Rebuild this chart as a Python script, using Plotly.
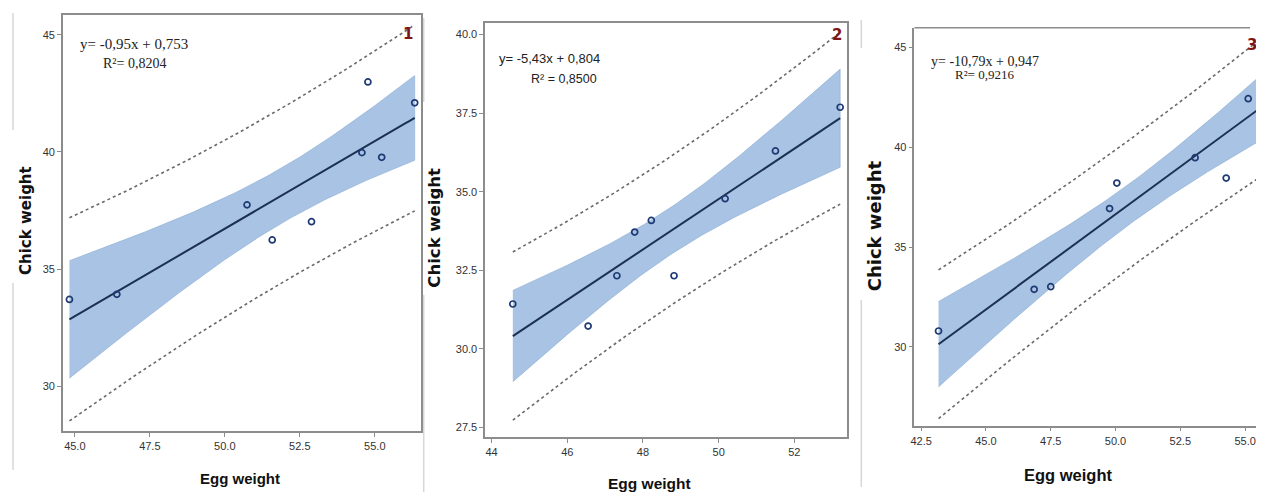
import numpy as np
import plotly.graph_objects as go

W, H = 1264, 493
OFF = 8  # page body margin compensation (pixels)

# ---------------- data ----------------
egg_1 = [44.82, 46.40, 50.74, 51.58, 52.89, 54.57, 54.77, 55.23, 56.33]
chick_1 = [33.70, 33.92, 37.74, 36.24, 37.02, 39.97, 42.99, 39.77, 42.10]

egg_2 = [44.56, 46.55, 47.31, 47.78, 48.22, 48.82, 50.17, 51.50, 53.21]
chick_2 = [31.43, 30.73, 32.33, 33.72, 34.09, 32.33, 34.78, 36.30, 37.69]

egg_3 = [43.17, 46.86, 47.50, 49.77, 50.05, 53.07, 54.27, 55.12, 55.65]
chick_3 = [30.79, 32.88, 33.01, 36.93, 38.21, 39.48, 38.46, 42.44, 42.80]

eq_text = ["y= -0,95x + 0,753", "y= -5,43x + 0,804", "y= -10,79x + 0,947"]
r2_text = ["R²= 0,8204", "R² = 0,8500", "R²= 0,9216"]
panel_label = ["1", "2", "3"]

x_ticks_1 = [45.0, 47.5, 50.0, 52.5, 55.0]
x_ticklabels_1 = ["45.0", "47.5", "50.0", "52.5", "55.0"]
y_ticks_1 = [30, 35, 40, 45]
y_ticklabels_1 = ["30", "35", "40", "45"]

x_ticks_2 = [44, 46, 48, 50, 52]
x_ticklabels_2 = ["44", "46", "48", "50", "52"]
y_ticks_2 = [27.5, 30.0, 32.5, 35.0, 37.5, 40.0]
y_ticklabels_2 = ["27.5", "30.0", "32.5", "35.0", "37.5", "40.0"]

x_ticks_3 = [42.5, 45.0, 47.5, 50.0, 52.5, 55.0]
x_ticklabels_3 = ["42.5", "45.0", "47.5", "50.0", "52.5", "55.0"]
y_ticks_3 = [30, 35, 40, 45]
y_ticklabels_3 = ["30", "35", "40", "45"]

# ---------------- layout geometry (screen pixels) ----------------
boxes = [  # left, right, top, bottom
    (59, 418, 15, 431),
    (482.7, 846, 22.7, 437.3),
    (913.3, 1264, 27.7, 425.7),
]
x_ranges = [[44.60, 56.53], [43.83, 53.40], [42.24, 55.73]]
y_ranges = [[28.08, 45.85], [27.19, 40.38], [26.04, 46.00]]

T975 = {7: 2.364624, 8: 2.306004, 6: 2.446912}

BAND = "rgb(168,195,227)"
BAND_EDGE = "rgb(140,172,212)"
LINE = "rgb(28,48,82)"
MARK = "rgb(30,58,115)"
PI = "rgb(105,105,112)"
AXIS = "rgb(140,140,140)"

fig = go.Figure()


def px_x(p):
    return min(max((p - OFF) / W, 0.0), 1.0)


def px_y(p):
    return min(max(1 - (p - OFF) / H, 0.0), 1.0)


datasets = [(egg_1, chick_1), (egg_2, chick_2), (egg_3, chick_3)]

for i, (xs, ys) in enumerate(datasets):
    k = "" if i == 0 else str(i + 1)
    xa, ya = "x" + k, "y" + k
    x = np.array(xs)
    y = np.array(ys)
    n = len(x)
    b1, b0 = np.polyfit(x, y, 1)
    resid = y - (b0 + b1 * x)
    s = np.sqrt(np.sum(resid ** 2) / (n - 2))
    sxx = np.sum((x - x.mean()) ** 2)
    t = T975[n - 2]
    g = np.linspace(x.min(), x.max(), 120)
    fit = b0 + b1 * g
    ci = t * s * np.sqrt(1 / n + (g - x.mean()) ** 2 / sxx)
    pi = t * s * np.sqrt(1 + 1 / n + (g - x.mean()) ** 2 / sxx)

    fig.add_trace(go.Scatter(
        x=np.concatenate([g, g[::-1]]),
        y=np.concatenate([fit + ci, (fit - ci)[::-1]]),
        fill="toself", fillcolor=BAND, mode="lines",
        line=dict(color=BAND_EDGE, width=0.6),
        xaxis=xa, yaxis=ya, showlegend=False, hoverinfo="skip"))
    for sgn in (1, -1):
        fig.add_trace(go.Scatter(
            x=g, y=fit + sgn * pi, mode="lines",
            line=dict(color=PI, width=1.6, dash="dot"),
            xaxis=xa, yaxis=ya, showlegend=False, hoverinfo="skip"))
    fig.add_trace(go.Scatter(
        x=g, y=fit, mode="lines", line=dict(color=LINE, width=2),
        xaxis=xa, yaxis=ya, showlegend=False))
    fig.add_trace(go.Scatter(
        x=x, y=y, mode="markers",
        marker=dict(symbol="circle-open", size=6, color=MARK,
                    line=dict(width=1.7, color=MARK)),
        xaxis=xa, yaxis=ya, showlegend=False))

tick_font = dict(family="Liberation Sans, Arial", size=11, color="#333")
ticks = [
    (x_ticks_1, x_ticklabels_1, y_ticks_1, y_ticklabels_1),
    (x_ticks_2, x_ticklabels_2, y_ticks_2, y_ticklabels_2),
    (x_ticks_3, x_ticklabels_3, y_ticks_3, y_ticklabels_3),
]

layout = dict(
    width=W, height=H, margin=dict(l=0, r=0, t=0, b=0),
    paper_bgcolor="white", plot_bgcolor="white",
)
for i, (L, R, T, B) in enumerate(boxes):
    k = "" if i == 0 else str(i + 1)
    xt, xl, yt, yl = ticks[i]
    mirror = i < 2
    layout["xaxis" + k] = dict(
        domain=[px_x(L), px_x(R)], range=x_ranges[i],
        anchor="y" + k, showgrid=False, zeroline=False,
        showline=True, linecolor=AXIS, linewidth=1.5, mirror=mirror,
        ticks="outside", ticklen=4, tickcolor=AXIS,
        tickvals=xt, ticktext=xl, tickfont=tick_font)
    layout["yaxis" + k] = dict(
        domain=[px_y(B), px_y(T)], range=y_ranges[i],
        anchor="x" + k, showgrid=False, zeroline=False,
        showline=True, linecolor=AXIS, linewidth=1.5, mirror=mirror,
        ticks="outside", ticklen=4, tickcolor=AXIS,
        tickvals=yt, ticktext=yl, tickfont=tick_font)

fig.update_layout(**layout)

ann = []
# equations
eq_fonts = [
    dict(family="Liberation Serif, Times New Roman", size=15, color="#222"),
    dict(family="Liberation Sans, Arial", size=13, color="#222"),
    dict(family="Liberation Serif, Times New Roman", size=14, color="#222"),
]
eq_pos = [((74, 44), (97, 63)), ((495, 58), (527, 79)), ((928, 62), (952, 75))]
r2_size = [14, 12.5, 13]
for i in range(3):
    (ex, ey), (rx, ry) = eq_pos[i]
    ann.append(dict(x=px_x(ex), y=px_y(ey), xref="paper", yref="paper",
                    text=eq_text[i], showarrow=False, xanchor="left", yanchor="middle",
                    font=eq_fonts[i]))
    f2 = dict(eq_fonts[i])
    f2["size"] = r2_size[i]
    ann.append(dict(x=px_x(rx), y=px_y(ry), xref="paper", yref="paper",
                    text=r2_text[i], showarrow=False, xanchor="left", yanchor="middle",
                    font=f2))

# panel numbers
num_pos = [(405, 34), (836, 35), (1252, 45)]
for i, (nx, ny) in enumerate(num_pos):
    ann.append(dict(x=px_x(nx), y=px_y(ny), xref="paper", yref="paper",
                    text="<b>%s</b>" % panel_label[i], showarrow=False,
                    xanchor="center", yanchor="middle",
                    font=dict(family="DejaVu Sans, Arial", size=15, color="rgb(128,20,20)")))

# axis titles
ytitle_pos = [(22, 220, 15), (432, 228, 16.5), (873, 226, 18)]
for (tx, ty, sz) in ytitle_pos:
    ann.append(dict(x=px_x(tx), y=px_y(ty), xref="paper", yref="paper",
                    text="<b>Chick weight</b>", showarrow=False, textangle=-90,
                    xanchor="center", yanchor="middle",
                    font=dict(family="DejaVu Sans, Verdana", size=sz, color="#111")))
xtitle_pos = [(237, 478, 15), (648, 483, 15.5), (1068, 475, 16.5)]
for (tx, ty, sz) in xtitle_pos:
    ann.append(dict(x=px_x(tx), y=px_y(ty), xref="paper", yref="paper",
                    text="<b>Egg weight</b>", showarrow=False,
                    xanchor="center", yanchor="middle",
                    font=dict(family="Liberation Sans, Arial", size=sz, color="#111")))

fig.update_layout(annotations=ann)

# decorative lines: top border of panel 3 and light separators of the composite image
shapes = [dict(type="line", xref="paper", yref="paper",
               x0=px_x(913.3), x1=px_x(1250), y0=px_y(27.7), y1=px_y(27.7),
               line=dict(color=AXIS, width=1.5))]
sep = [(9, 13, 130), (9, 283, 470), (421, 18, 102), (421, 295, 492),
       (860, 20, 48), (860, 300, 487)]
for (sx, s0, s1) in sep:
    shapes.append(dict(type="line", xref="paper", yref="paper",
                       x0=px_x(sx), x1=px_x(sx), y0=px_y(s0), y1=px_y(s1),
                       line=dict(color="rgb(215,215,215)", width=1.5)))
fig.update_layout(shapes=shapes)

fig.write_html("out.html")
